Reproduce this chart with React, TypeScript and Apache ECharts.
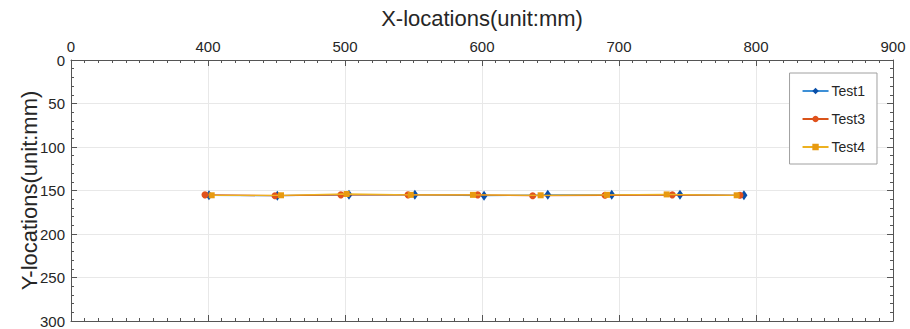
import React, { useEffect, useRef } from "react";
import * as echarts from "echarts";

const test1X = [400.7, 450.6, 502.9, 551, 601.5, 648, 694.7, 744.5, 791.2];
const test1Y = [155.5, 156, 155, 155, 156, 155, 155, 155, 155.5];
const test3X = [397.8, 448.9, 497, 546, 596.9, 637, 689.8, 738.9, 788.3];
const test3Y = [155, 156, 155, 155, 155, 156, 155.5, 155, 155.5];
const test4X = [402.7, 453.3, 501.2, 548, 593.4, 642.8, 691.2, 734.8, 785.9];
const test4Y = [155.5, 155.5, 154, 155, 155, 155.5, 155, 154.5, 155.5];

const xTicks = [300, 400, 500, 600, 700, 800, 900];
const xTickLabels = ["0", "400", "500", "600", "700", "800", "900"];

const zip = (xs: number[], ys: number[]) => xs.map((x, i) => [x, ys[i]]);

export default function App() {
  const ref = useRef<HTMLDivElement>(null);
  useEffect(() => {
    if (!ref.current) return;
    const chart = echarts.init(ref.current, undefined, { renderer: "svg" });
    const font = "Liberation Sans, Arial, Helvetica, sans-serif";
    const axisColor = "#555";
    const baseX = {
      type: "value",
      min: 300,
      max: 900,
      interval: 100,
      axisLine: { show: true, onZero: false, lineStyle: { color: axisColor, width: 1 } },
      axisTick: { show: true, inside: true, length: 6, lineStyle: { color: axisColor } },
      minorTick: { show: true, splitNumber: 10, length: 3, lineStyle: { color: axisColor } },
      splitLine: { show: false },
    };
    const baseY = {
      type: "value",
      min: 0,
      max: 300,
      interval: 50,
      inverse: true,
      axisLine: { show: true, onZero: false, lineStyle: { color: axisColor, width: 1 } },
      axisTick: { show: true, inside: true, length: 6, lineStyle: { color: axisColor } },
      minorTick: { show: true, splitNumber: 5, length: 3, lineStyle: { color: axisColor } },
      splitLine: { show: false },
    };
    chart.setOption({
      animation: false,
      backgroundColor: "#fff",
      textStyle: { fontFamily: font },
      grid: { left: 71, top: 60, width: 822, height: 261, containLabel: false },
      xAxis: [
        {
          ...baseX,
          position: "top",
          name: "X-locations(unit:mm)",
          nameLocation: "middle",
          nameGap: 31,
          nameMoveOverlap: false,
          nameTextStyle: { fontSize: 22, color: "#262626", fontFamily: font },
          axisLabel: {
            show: true,
            fontSize: 15,
            color: "#262626",
            margin: 6,
            fontFamily: font,
            formatter: (v: number) => {
              const i = xTicks.indexOf(v);
              return i >= 0 ? xTickLabels[i] : "";
            },
          },
          splitLine: { show: true, lineStyle: { color: "#e8e8e8", width: 1 } },
        },
        { ...baseX, position: "bottom", axisLabel: { show: false } },
      ],
      yAxis: [
        {
          ...baseY,
          position: "left",
          name: "Y-locations(unit:mm)",
          nameLocation: "middle",
          nameGap: 31,
          nameMoveOverlap: false,
          nameTextStyle: { fontSize: 22, color: "#262626", fontFamily: font },
          axisLabel: { show: true, fontSize: 15, color: "#262626", margin: 6, fontFamily: font },
          splitLine: { show: true, lineStyle: { color: "#e8e8e8", width: 1 } },
        },
        { ...baseY, position: "right", axisLabel: { show: false } },
      ],
      legend: {
        orient: "vertical",
        right: 33,
        top: 73,
        backgroundColor: "#fff",
        borderColor: "#a0a0a0",
        borderWidth: 1,
        borderRadius: 0,
        padding: [11, 12, 10, 12],
        itemGap: 14,
        itemWidth: 26,
        itemHeight: 8,
        itemStyle: { borderWidth: 0 },
        textStyle: { fontSize: 14, color: "#262626", fontFamily: font, padding: [0, 0, 0, -2] },
        data: ["Test1", "Test3", "Test4"],
      },
      series: [
        {
          name: "Test1",
          type: "line",
          data: zip(test1X, test1Y),
          symbol: "diamond",
          symbolSize: [7, 10],
          lineStyle: { color: "#3d8fd6", width: 1.3 },
          itemStyle: { color: "#0a4fa8", borderWidth: 0 },
          z: 2,
        },
        {
          name: "Test3",
          type: "line",
          data: zip(test3X, test3Y),
          symbol: "circle",
          symbolSize: 7,
          lineStyle: { color: "#d95319", width: 1.3 },
          itemStyle: { color: "#e0521c", borderWidth: 0 },
          z: 3,
        },
        {
          name: "Test4",
          type: "line",
          data: zip(test4X, test4Y),
          symbol: "rect",
          symbolSize: 6,
          lineStyle: { color: "#edb120", width: 1.3 },
          itemStyle: { color: "#e89a10", borderWidth: 0 },
          z: 4,
        },
      ],
    });
    return () => chart.dispose();
  }, []);
  return (
    <div
      ref={ref}
      style={{ position: "fixed", left: 0, top: 0, width: 910, height: 329 }}
    />
  );
}
